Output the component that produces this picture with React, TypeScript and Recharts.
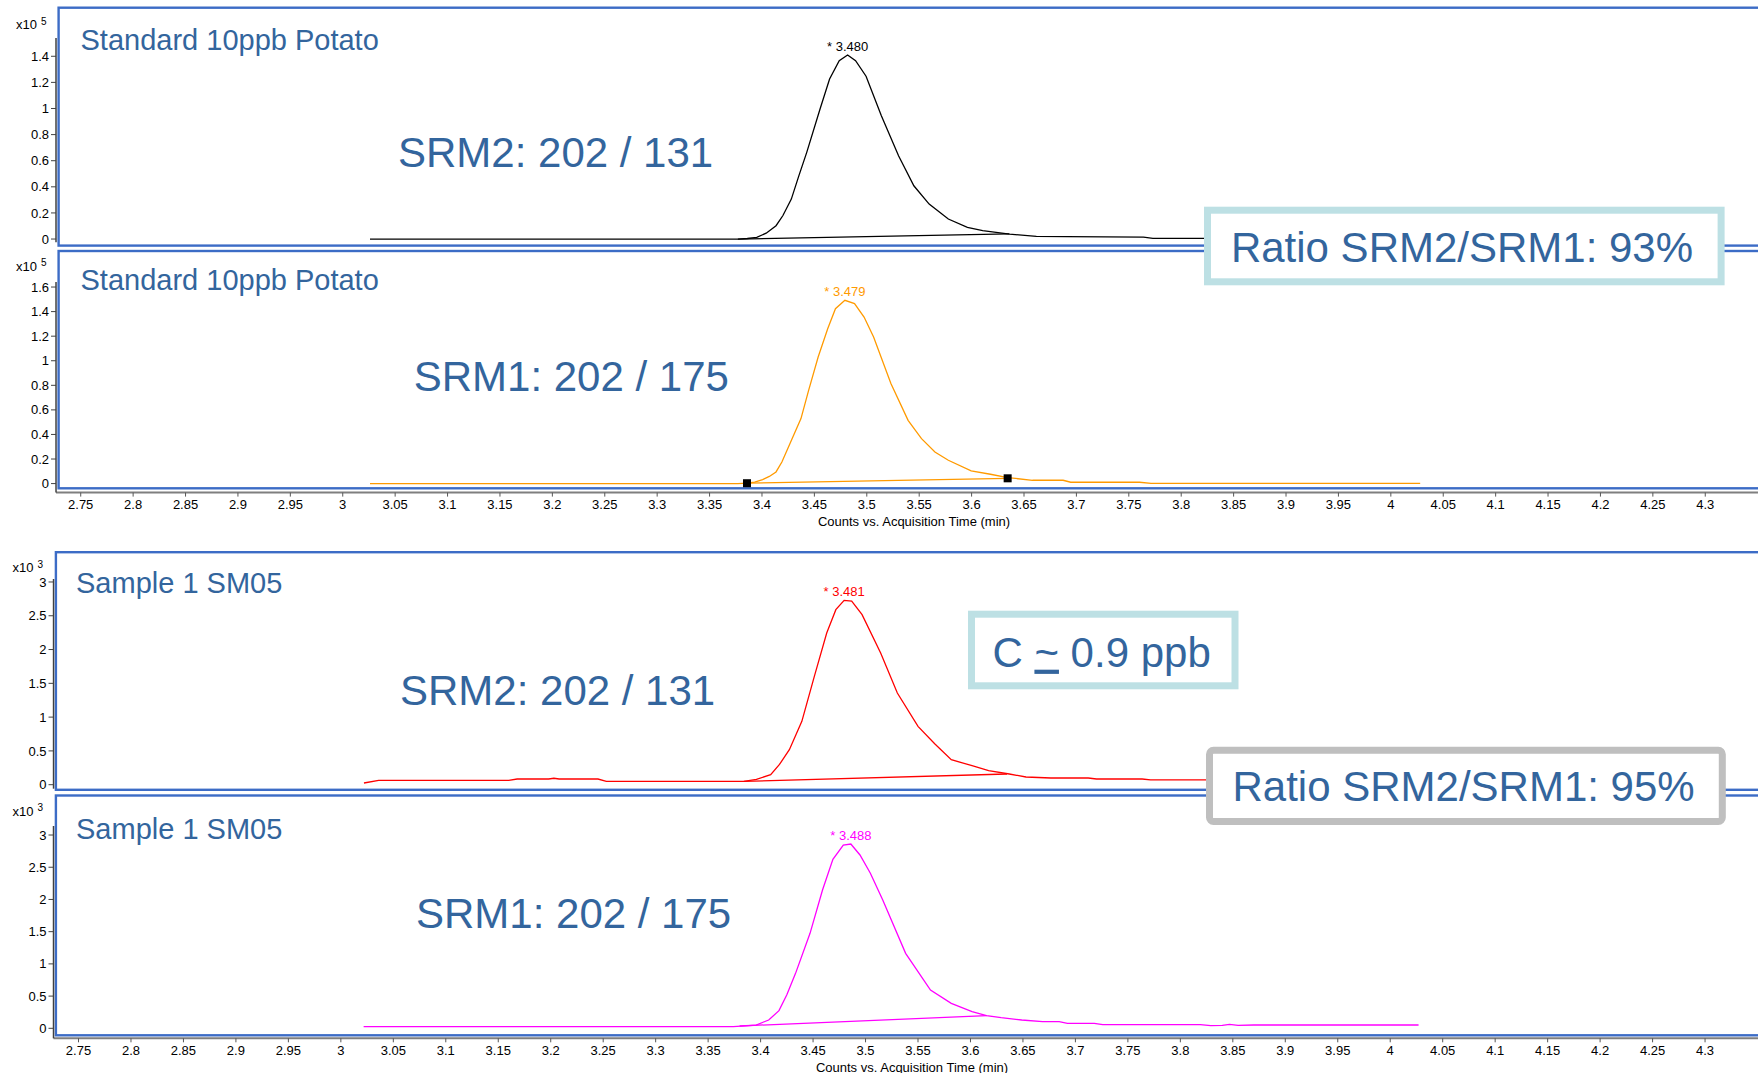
import React from 'react';
import { LineChart, Line, XAxis, YAxis, ReferenceDot } from 'recharts';

const FONT = '"Liberation Sans", Arial, Helvetica, sans-serif';
const TEXT_BLUE = '#33659d';
const FRAME_BLUE = '#3c6cc6';
const W = 1758;
const H = 1073;

// ---------- tick labels ----------
const timeTicks = [2.75, 2.8, 2.85, 2.9, 2.95, 3, 3.05, 3.1, 3.15, 3.2, 3.25, 3.3, 3.35, 3.4, 3.45, 3.5, 3.55, 3.6, 3.65, 3.7, 3.75, 3.8, 3.85, 3.9, 3.95, 4, 4.05, 4.1, 4.15, 4.2, 4.25, 4.3];
const stdSrm2Ticks = [0, 0.2, 0.4, 0.6, 0.8, 1, 1.2, 1.4];
const stdSrm1Ticks = [0, 0.2, 0.4, 0.6, 0.8, 1, 1.2, 1.4, 1.6];
const sampleTicks = [0, 0.5, 1, 1.5, 2, 2.5, 3];

// ---------- series (time min, counts x10^5 for standard, x10^3 for sample) ----------
const stdSrm2Trace: [number, number][] = [
  [3.026, 0], [3.377, 0], [3.386, 0.004], [3.395, 0.013], [3.404, 0.045], [3.4134, 0.102], [3.42, 0.18],
  [3.428, 0.306], [3.435, 0.48], [3.4427, 0.664], [3.4554, 0.996], [3.4645, 1.226], [3.4737, 1.366],
  [3.4817, 1.41], [3.4893, 1.366], [3.4993, 1.247], [3.5139, 0.945], [3.5303, 0.638], [3.5449, 0.408],
  [3.5595, 0.268], [3.5778, 0.153], [3.596, 0.089], [3.6106, 0.064], [3.6362, 0.038], [3.6618, 0.02],
  [3.691, 0.018], [3.764, 0.015], [3.773, 0.005], [4.028, 0.005],
];
const stdSrm2Base: [number, number][] = [[3.377, 0], [3.636, 0.04]];
const stdSrm2Peak = { x: 3.4817, y: 1.41, label: '* 3.480' };

const stdSrm1Trace: [number, number][] = [
  [3.026, 0], [3.377, 0], [3.3857, 0.003], [3.393, 0.012], [3.4006, 0.033], [3.407, 0.058], [3.4134, 0.095],
  [3.419, 0.176], [3.4281, 0.352], [3.4372, 0.529], [3.4445, 0.759], [3.4536, 1.03], [3.4627, 1.261],
  [3.4701, 1.424], [3.4791, 1.492], [3.4883, 1.465], [3.4974, 1.356], [3.5065, 1.193], [3.523, 0.814],
  [3.5394, 0.515], [3.5522, 0.366], [3.565, 0.257], [3.5778, 0.19], [3.5996, 0.103], [3.618, 0.076],
  [3.6344, 0.049], [3.6581, 0.027], [3.6873, 0.027], [3.6946, 0.011], [3.7603, 0.011], [3.7712, 0.002],
  [4.028, 0.002],
];
const stdSrm1Base: [number, number][] = [[3.3857, 0.003], [3.6344, 0.043]];
const stdSrm1Peak = { x: 3.4791, y: 1.492, label: '* 3.479' };

const smpSrm2Trace: [number, number][] = [
  [3.022, 0.025], [3.036, 0.064], [3.16, 0.064], [3.168, 0.084], [3.198, 0.084], [3.203, 0.095], [3.208, 0.084],
  [3.245, 0.084], [3.253, 0.049], [3.384, 0.049], [3.396, 0.08], [3.4096, 0.148], [3.418, 0.3], [3.4274, 0.518],
  [3.4393, 0.937], [3.4512, 1.603], [3.463, 2.245], [3.4717, 2.59], [3.4796, 2.728], [3.4868, 2.718],
  [3.4967, 2.516], [3.5144, 1.949], [3.5303, 1.357], [3.55, 0.863], [3.5659, 0.607], [3.5817, 0.37],
  [3.6015, 0.281], [3.6173, 0.207], [3.637, 0.158], [3.6529, 0.114], [3.6766, 0.099], [3.7122, 0.099],
  [3.7201, 0.084], [3.7636, 0.084], [3.7716, 0.07], [4.028, 0.07],
];
const smpSrm2Base: [number, number][] = [[3.384, 0.049], [3.6348, 0.158]];
const smpSrm2Peak = { x: 3.4796, y: 2.728, label: '* 3.481' };

const smpSrm1Trace: [number, number][] = [
  [3.0217, 0.025], [3.374, 0.025], [3.3957, 0.051], [3.4077, 0.129], [3.4175, 0.274], [3.425, 0.52],
  [3.4333, 0.853], [3.4471, 1.474], [3.459, 2.147], [3.4689, 2.623], [3.4788, 2.845], [3.486, 2.86],
  [3.4947, 2.69], [3.5046, 2.406], [3.5164, 1.991], [3.5382, 1.164], [3.5619, 0.594], [3.5817, 0.388],
  [3.6015, 0.258], [3.6153, 0.196], [3.6292, 0.165], [3.6489, 0.129], [3.6687, 0.103], [3.6845, 0.103],
  [3.6924, 0.077], [3.718, 0.077], [3.726, 0.057], [3.819, 0.057], [3.829, 0.041], [3.84, 0.045],
  [3.8469, 0.06], [3.855, 0.046], [3.87, 0.051], [4.027, 0.051],
];
const smpSrm1Base: [number, number][] = [[3.38, 0.036], [3.6153, 0.196]];
const smpSrm1Peak = { x: 3.486, y: 2.86, label: '* 3.488' };

const toPts = (a: [number, number][]) => a.map(([x, y]) => ({ x, y }));

// ---------- layout ----------
const upperX: [number, number] = [2.72643, 4.3503];
const lowerX: [number, number] = [2.72618, 4.35045];

const layouts = {
  p1: { plotLeft: 56, plotTop: 37.8, plotBottom: 242.1, xDomain: upperX, yDomain: [-0.025, 1.54] as [number, number] },
  p2: { plotLeft: 56, plotTop: 281.7, plotBottom: 492.3, xDomain: upperX, yDomain: [-0.0733, 1.641] as [number, number] },
  p3: { plotLeft: 53.5, plotTop: 579.3, plotBottom: 789, xDomain: lowerX, yDomain: [-0.0592, 3.044] as [number, number] },
  p4: { plotLeft: 53.5, plotTop: 826, plotBottom: 1038.3, xDomain: lowerX, yDomain: [-0.155, 3.14] as [number, number] },
};

const squareDot = (p: any) => (
  <rect key={`sq-${p.index}`} x={p.cx - 4} y={p.cy - 4} width={8} height={8} fill="#000" />
);

type PanelProps = {
  layout: { plotLeft: number; plotTop: number; plotBottom: number; xDomain: [number, number]; yDomain: [number, number] };
  yTicks: number[];
  trace: [number, number][];
  base: [number, number][];
  color: string;
  peak: { x: number; y: number; label: string };
  markers?: boolean;
  showX?: boolean;
};

function Panel({ layout, yTicks, trace, base, color, peak, markers, showX }: PanelProps) {
  const mt = 14;
  const mb = showX ? 0 : 14;
  const axisH = showX ? 34 : 0;
  const plotH = layout.plotBottom - layout.plotTop;
  const h = mt + plotH + axisH + mb;
  return (
    <div style={{ position: 'absolute', left: 0, top: layout.plotTop - mt }}>
      <LineChart width={W} height={h} margin={{ top: mt, right: 0, bottom: mb, left: 0 }}>
        <XAxis
          type="number"
          dataKey="x"
          domain={layout.xDomain}
          ticks={timeTicks}
          interval={0}
          allowDataOverflow
          hide={!showX}
          height={axisH}
          tickSize={4}
          tickMargin={3}
          axisLine={{ stroke: '#7f7f7f', strokeWidth: 2 }}
          tickLine={{ stroke: '#555' }}
          tick={{ fill: '#000', fontSize: 13, fontFamily: FONT }}
        />
        <YAxis
          type="number"
          domain={layout.yDomain}
          ticks={yTicks}
          interval={0}
          allowDataOverflow
          width={layout.plotLeft}
          tickSize={5}
          tickMargin={2}
          axisLine={{ stroke: '#404040', strokeWidth: 1.5 }}
          tickLine={{ stroke: '#404040' }}
          tick={{ fill: '#000', fontSize: 13, fontFamily: FONT }}
        />
        <Line
          data={toPts(base)}
          dataKey="y"
          type="linear"
          stroke={color}
          strokeWidth={1.3}
          dot={markers ? squareDot : false}
          activeDot={false}
          isAnimationActive={false}
        />
        <Line
          data={toPts(trace)}
          dataKey="y"
          type="linear"
          stroke={color}
          strokeWidth={1.3}
          dot={false}
          activeDot={false}
          isAnimationActive={false}
        />
        <ReferenceDot
          x={peak.x}
          y={peak.y}
          r={0}
          fill="none"
          stroke="none"
          label={{ value: peak.label, position: 'top', offset: 4, fill: color, fontSize: 13, fontFamily: FONT }}
        />
      </LineChart>
    </div>
  );
}

function Exponent({ x, y, exp }: { x: number; y: number; exp: string }) {
  return (
    <g fontFamily={FONT} fill="#000">
      <text x={x} y={y} fontSize={13}>x10</text>
      <text x={x + 25} y={y - 4.5} fontSize={10}>{exp}</text>
    </g>
  );
}

function Box({ x, y, w, h, stroke, rx }: any) {
  return (
    <rect x={x + 3.5} y={y + 3.5} width={w - 7} height={h - 7} fill="#fff" stroke={stroke} strokeWidth={7} rx={rx || 0} />
  );
}

export default function App() {
  return (
    <div style={{ position: 'absolute', left: 0, top: 0, width: W, height: H, overflow: 'hidden', background: '#fff', fontFamily: FONT }}>
      {/* panel frames */}
      <svg width={W} height={H} style={{ position: 'absolute', left: 0, top: 0 }}>
        <rect x={58.6} y={7.7} width={1800} height={237.9} fill="none" stroke={FRAME_BLUE} strokeWidth={2.4} />
        <rect x={58.6} y={251} width={1800} height={237.3} fill="none" stroke={FRAME_BLUE} strokeWidth={2.4} />
        <rect x={55.9} y={552.2} width={1800} height={237.6} fill="none" stroke={FRAME_BLUE} strokeWidth={2.4} />
        <rect x={55.9} y={795.5} width={1800} height={239.8} fill="none" stroke={FRAME_BLUE} strokeWidth={2.4} />
      </svg>

      <Panel layout={layouts.p1} yTicks={stdSrm2Ticks} trace={stdSrm2Trace} base={stdSrm2Base} color="#000000" peak={stdSrm2Peak} />
      <Panel layout={layouts.p2} yTicks={stdSrm1Ticks} trace={stdSrm1Trace} base={stdSrm1Base} color="#ff9a00" peak={stdSrm1Peak} markers showX />
      <Panel layout={layouts.p3} yTicks={sampleTicks} trace={smpSrm2Trace} base={smpSrm2Base} color="#ff0000" peak={smpSrm2Peak} />
      <Panel layout={layouts.p4} yTicks={sampleTicks} trace={smpSrm1Trace} base={smpSrm1Base} color="#ff00ff" peak={smpSrm1Peak} showX />

      {/* annotations */}
      <svg width={W} height={H} style={{ position: 'absolute', left: 0, top: 0, pointerEvents: 'none' }}>
        <Exponent x={16} y={29} exp="5" />
        <Exponent x={16} y={270.7} exp="5" />
        <Exponent x={12.6} y={572.3} exp="3" />
        <Exponent x={12.6} y={815.7} exp="3" />

        <g fontFamily={FONT} fill={TEXT_BLUE}>
          <text x={80.5} y={50} fontSize={29}>Standard 10ppb Potato</text>
          <text x={80.5} y={290} fontSize={29}>Standard 10ppb Potato</text>
          <text x={76} y={593.3} fontSize={29}>Sample 1 SM05</text>
          <text x={76} y={839.3} fontSize={29}>Sample 1 SM05</text>

          <text x={398} y={166.7} fontSize={42}>SRM2: 202 / 131</text>
          <text x={413.7} y={390.7} fontSize={42}>SRM1: 202 / 175</text>
          <text x={400} y={705} fontSize={42}>SRM2: 202 / 131</text>
          <text x={416} y={928.3} fontSize={42}>SRM1: 202 / 175</text>
        </g>

        <g fontFamily={FONT} fill="#000" fontSize={13} textAnchor="middle">
          <text x={914} y={526}>Counts vs. Acquisition Time (min)</text>
          <text x={912} y={1071.5}>Counts vs. Acquisition Time (min)</text>
        </g>

        <Box x={1204} y={206.7} w={520.6} h={78.6} stroke="#bde0e4" />
        <text x={1462} y={261.7} fontSize={42} fontFamily={FONT} fill={TEXT_BLUE} textAnchor="middle">Ratio SRM2/SRM1: 93%</text>

        <Box x={968} y={610.7} w={270.5} h={78.6} stroke="#bde0e4" />
        <text x={1101.6} y={666.7} fontSize={42} fontFamily={FONT} fill={TEXT_BLUE} textAnchor="middle">
          C <tspan textDecoration="underline">~</tspan> 0.9 ppb
        </text>

        <Box x={1206} y={746.7} w={519.8} h={78.3} stroke="#bfbfbf" rx={4} />
        <text x={1463.6} y={801} fontSize={42} fontFamily={FONT} fill={TEXT_BLUE} textAnchor="middle">Ratio SRM2/SRM1: 95%</text>
      </svg>
    </div>
  );
}
